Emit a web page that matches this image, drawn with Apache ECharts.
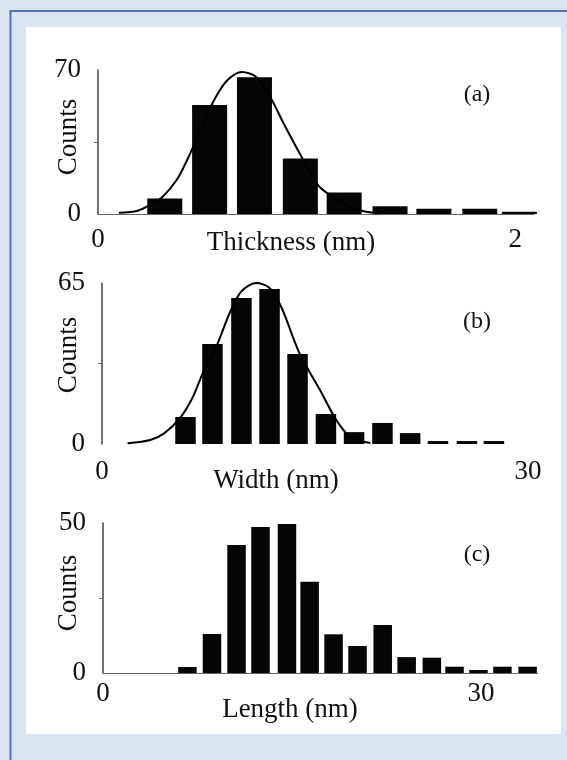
<!DOCTYPE html>
<html>
<head>
<meta charset="utf-8">
<script src="https://cdn.jsdelivr.net/npm/echarts@6/dist/echarts.min.js"></script>
<style>
  html, body { margin: 0; padding: 0; background: #dbe5f1; }
  #chart { width: 567px; height: 760px; }
</style>
</head>
<body>
<div id="chart"></div>
<script>
// (a) thickness histogram (bin centres in nm, counts) and fitted curve
const thickBins = [0.32, 0.535, 0.75, 0.97, 1.18, 1.40, 1.61, 1.83, 2.02];
const thickCounts = [7.5, 53, 66.5, 27, 10.5, 3.8, 2.6, 2.6, 1.1];
const thickFitX = [0.10, 0.19, 0.25, 0.31, 0.38, 0.44, 0.50, 0.56, 0.62, 0.69, 0.76, 0.83, 0.89, 0.98, 1.055, 1.10, 1.18, 1.27, 1.35];
const thickFitY = [0.6, 1.6, 4.4, 8.4, 17, 29, 43, 56, 65, 69, 66.5, 56, 44, 27, 14, 10, 5, 1.5, 0.3];
const thickXTicks = [0, 2];
const thickYTicks = [0, 70];

// (b) width histogram and fitted curve
const widthBins = [5.88, 7.78, 9.82, 11.8, 13.77, 15.77, 17.75, 19.75, 21.7, 23.66, 25.7, 27.6];
const widthCounts = [10.9, 40.4, 58.9, 62.6, 36.3, 12.1, 4.8, 8.5, 4.4, 1.2, 1.2, 1.2];
const widthFitX = [1.8, 3.4, 4.4, 5.5, 6.4, 7.1, 8.1, 9.0, 9.8, 10.85, 11.8, 12.65, 13.9, 15.35, 16.5, 17.5, 18.9];
const widthFitY = [0.3, 1.6, 4.4, 10.5, 19, 28.6, 40, 53, 61.5, 65, 63, 55, 36.7, 21.8, 9.7, 2.8, 0.4];
const widthXTicks = [0, 30];
const widthYTicks = [0, 65];

// (c) length histogram
const lengthBins = [6.7, 8.65, 10.6, 12.5, 14.6, 16.4, 18.3, 20.2, 22.2, 24.1, 26.1, 27.9, 29.8, 31.7, 33.7];
const lengthCounts = [2, 13, 42.7, 48.7, 49.7, 30.4, 12.9, 9, 16, 5.3, 5.1, 2.1, 1, 2.1, 2.1];
const lengthXTicks = [0, 30];
const lengthYTicks = [0, 50];

const SERIF = '"Liberation Serif", "Times New Roman", serif';
const INK = '#111';

const pairs = (xs, ys) => xs.map((x, i) => [x, ys[i]]);

function xAxisFor(grid, max, ticks, margin, showLine) {
  return {
    gridIndex: grid, type: 'value', min: 0, max: max,
    axisLine: { show: showLine, onZero: false, lineStyle: { color: '#666', width: 1 } },
    axisTick: { show: false },
    splitLine: { show: false },
    axisLabel: { customValues: ticks, margin: margin, fontFamily: SERIF, fontSize: 27, color: INK }
  };
}
function yAxisFor(grid, max, ticks) {
  return {
    gridIndex: grid, type: 'value', min: 0, max: max,
    axisLine: { show: true, lineStyle: { color: '#444', width: 1.5 } },
    axisTick: { show: true, length: 4, customValues: [max / 2], lineStyle: { color: '#666', width: 1 } },
    splitLine: { show: false },
    axisLabel: { customValues: ticks, margin: 17, fontFamily: SERIF, fontSize: 27, color: INK }
  };
}
function bars(idx, xs, ys, w) {
  return {
    type: 'bar', xAxisIndex: idx, yAxisIndex: idx, barWidth: w,
    data: pairs(xs, ys), itemStyle: { color: '#050505' }, silent: true, z: 2
  };
}
function fit(idx, xs, ys) {
  return {
    type: 'line', xAxisIndex: idx, yAxisIndex: idx, smooth: 0.3,
    showSymbol: false, data: pairs(xs, ys), silent: true, z: 3,
    lineStyle: { color: '#000', width: 2 }
  };
}
function text(str, x, y, size, rot) {
  return {
    type: 'text', x: x, y: y, rotation: rot || 0, z: 20, silent: true,
    style: { text: str, font: size + 'px ' + SERIF, fill: INK, align: 'center', verticalAlign: 'middle' }
  };
}

const chart = echarts.init(document.getElementById('chart'), null, { renderer: 'canvas' });
chart.setOption({
  animation: false,
  backgroundColor: '#dbe5f1',
  grid: [
    { left: 98, top: 70, width: 436, height: 144 },
    { left: 102, top: 283, width: 426, height: 161 },
    { left: 103, top: 523, width: 434.7, height: 150 }
  ],
  xAxis: [
    xAxisFor(0, 2.09, thickXTicks, 12, true),
    xAxisFor(1, 30, widthXTicks, 14, false),
    xAxisFor(2, 34.5, lengthXTicks, 7, true)
  ],
  yAxis: [
    yAxisFor(0, 70, thickYTicks),
    yAxisFor(1, 65, widthYTicks),
    yAxisFor(2, 50, lengthYTicks)
  ],
  series: [
    bars(0, thickBins, thickCounts, 35),
    fit(0, thickFitX, thickFitY),
    bars(1, widthBins, widthCounts, 20.5),
    fit(1, widthFitX, widthFitY),
    bars(2, lengthBins, lengthCounts, 18.5)
  ],
  graphic: [
    { type: 'rect', z: -10, silent: true, shape: { x: 26, y: 27, width: 535, height: 707 }, style: { fill: '#ffffff' } },
    { type: 'polyline', z: -9, silent: true, shape: { points: [[10.5, 760], [10.5, 11], [567, 11]] },
      style: { stroke: '#4f77ad', lineWidth: 2, fill: null } },
    text('Counts', 69, 137, 27, Math.PI / 2),
    text('Counts', 69, 355, 27, Math.PI / 2),
    text('Counts', 69, 593, 27, Math.PI / 2),
    text('Thickness (nm)', 291, 243, 27),
    text('Width (nm)', 276, 481, 27),
    text('Length (nm)', 290, 710, 27),
    text('(a)', 477, 95, 24),
    text('(b)', 477, 322, 24),
    text('(c)', 477, 555, 24)
  ]
});
</script>
</body>
</html>
